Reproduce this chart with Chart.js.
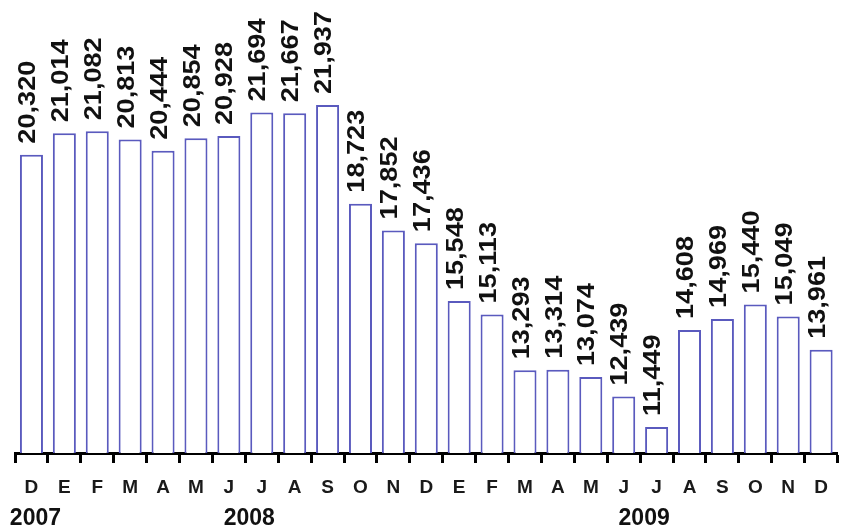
<!DOCTYPE html>
<html>
<head>
<meta charset="utf-8">
<script src="https://cdn.jsdelivr.net/npm/chart.js@4"></script>
<style>
  html, body { margin: 0; padding: 0; background: #fff; }
  #wrap { width: 841px; height: 531px; position: relative; }
</style>
</head>
<body>
<div id="wrap"><canvas id="barChart"></canvas></div>
<script>
// meses dic 2007 - dic 2009
const months = ['D','E','F','M','A','M','J','J','A','S','O','N','D',
                'E','F','M','A','M','J','J','A','S','O','N','D'];
const values = [20320, 21014, 21082, 20813, 20444, 20854, 20928, 21694, 21667, 21937,
                18723, 17852, 17436, 15548, 15113, 13293, 13314, 13074, 12439, 11449,
                14608, 14969, 15440, 15049, 13961];
const years = ['2007', '2008', '2009'];
const yearFirst = [0, 1, 13];
const yearLast = [0, 12, 24];

// etiquetas verticales encima de cada barra
const valueLabels = {
  id: 'valueLabels',
  afterDatasetsDraw(chart) {
    const ctx = chart.ctx;
    const meta = chart.getDatasetMeta(0);
    ctx.save();
    ctx.fillStyle = '#111';
    ctx.font = 'bold 24px "Liberation Sans", Arial, sans-serif';
    ctx.textAlign = 'left';
    ctx.textBaseline = 'middle';
    meta.data.forEach((bar, i) => {
      ctx.save();
      ctx.translate(bar.x - 3, bar.y - 11);
      ctx.rotate(-Math.PI / 2);
      ctx.scale(1.13, 1);
      ctx.fillText(values[i].toLocaleString('en-US'), 0, 0);
      ctx.restore();
    });
    ctx.restore();
  }
};

// años debajo de los meses
const yearLabels = {
  id: 'yearLabels',
  afterDraw(chart) {
    const ctx = chart.ctx;
    const x = chart.scales.x;
    ctx.save();
    ctx.fillStyle = '#111';
    ctx.font = 'bold 23px "Liberation Sans", Arial, sans-serif';
    ctx.textAlign = 'center';
    ctx.textBaseline = 'alphabetic';
    years.forEach((y, i) => {
      const cx = (x.getPixelForValue(yearFirst[i]) + x.getPixelForValue(yearLast[i])) / 2 + 4;
      ctx.fillText(y, cx, 525);
    });
    ctx.restore();
  }
};

const ctx = document.getElementById('barChart').getContext('2d');
const barChart = new Chart(ctx, {
  type: 'bar',
  data: {
    labels: months,
    datasets: [{
      data: values,
      backgroundColor: '#ffffff',
      borderColor: '#5a5abe',
      borderWidth: 2,
      borderSkipped: 'bottom',
      barPercentage: 0.7,
      categoryPercentage: 1.0
    }]
  },
  options: {
    responsive: true,
    maintainAspectRatio: false,
    animation: false,
    layout: {
      padding: { top: 11, bottom: 0, left: 15, right: 1 }
    },
    plugins: {
      legend: { display: false },
      tooltip: { enabled: false }
    },
    scales: {
      x: {
        afterFit: (s) => { s.height = 78; },
        border: { display: true, color: '#000', width: 3 },
        grid: {
          offset: true,
          drawOnChartArea: false,
          drawTicks: true,
          tickLength: 10,
          tickWidth: 3,
          tickColor: '#000'
        },
        ticks: {
          color: '#1a1a1a',
          maxRotation: 0,
          autoSkip: false,
          padding: 13,
          font: { family: '"Liberation Sans", Arial, sans-serif', size: 19, weight: 'bold' }
        }
      },
      y: {
        display: false,
        min: 10600,
        max: 25000
      }
    }
  },
  plugins: [valueLabels, yearLabels]
});
</script>
</body>
</html>
